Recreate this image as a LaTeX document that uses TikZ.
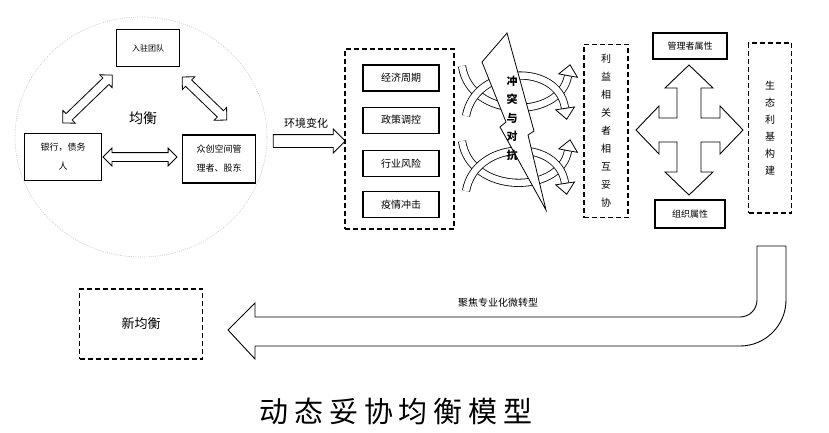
\documentclass[tikz,border=0pt]{standalone}
\usepackage{fontspec}
\setmainfont{Noto Sans CJK SC}
\usetikzlibrary{positioning,shapes.geometric,shapes.arrows}
\tikzset{>=latex}
\tikzset{
  plainbox/.style={draw,line width=1.1pt,inner sep=0pt,align=center,font=\fontsize{9}{19}\selectfont},
  dashbox/.style={draw,line width=1.1pt,dash pattern=on 5pt off 3pt,inner sep=0pt,align=center},
  itembox/.style={plainbox,minimum width=76pt,minimum height=26pt,font=\fontsize{10}{12}\selectfont},
  dblarrow/.style={double arrow,draw,line width=0.8pt,inner sep=4pt,double arrow head extend=4.5pt,minimum height=#1},
  band/.style={line width=0.8pt,double=white,double distance=6.5pt},
  bandhead/.style={isosceles triangle,isosceles triangle stretches,draw,fill=white,line width=0.8pt,inner sep=0pt,minimum width=19pt,minimum height=11pt,sloped,anchor=west},
}

\begin{document}
\begin{tikzpicture}[x=1pt,y=-1pt]
\useasboundingbox (0,0) rectangle (829,433);

% balance circle
\node[ellipse,draw=gray!45,line width=0.6pt,dash pattern=on 1pt off 1.2pt,minimum width=252pt,minimum height=240pt] (balance) at (141,137) {};
\node[font=\fontsize{14}{14}\selectfont] (ballabel) at (143,118) {均衡};
\node[plainbox,minimum width=63pt,minimum height=37pt,font=\fontsize{8}{10}\selectfont] (team) at (148,48) {入驻团队};
\node[plainbox,minimum width=77pt,minimum height=47pt] (bank) at (63,157) {银行，债务\\人};
\node[plainbox,minimum width=73pt,minimum height=48pt] (maker) at (219,159) {众创空间管\\理者、股东};

\node[dblarrow=69pt,rotate=44] (tb) at (87.5,99) {};
\node[dblarrow=62pt,rotate=-44] (tm) at (204.5,98.5) {};
\node[dblarrow=74pt] (bm) at (140,157) {};

% environment change
\node[single arrow,draw,line width=0.8pt,inner sep=6pt,single arrow head extend=5.5pt,minimum height=72pt] (envarrow) at (306,141) {};
\node[font=\fontsize{11}{11}\selectfont,above=2pt of envarrow] (envlabel) {环境变化};

% factors
\node[dashbox,minimum width=109pt,minimum height=180pt] (factors) at (399.5,139) {};
\node[itembox] (econ) at (401,78) {经济周期};
\node[itembox,below=15pt of econ] (policy) {政策调控};
\node[itembox,below=16pt of policy] (industry) {行业风险};
\node[itembox,below=14pt of industry] (epidemic) {疫情冲击};

% conflict arrows
\foreach \dy in {0,75}{
  \begin{scope}[yshift=-\dy pt]
    \draw[band] (462,66) .. controls (470,120) and (560,120) .. (568,76) node[bandhead,pos=1] {};
    \draw[band] (466,116) .. controls (475,65) and (558,62) .. (565,108) node[bandhead,pos=1] {};
  \end{scope}
}

% lightning
\draw[fill=white,line width=0.8pt] (507,33) -- (482,62) -- (506,122) -- (500,127) -- (546,210) -- (528,135) -- (534,131) -- cycle;
\node[font={\fontsize{11}{18.5}\selectfont\bfseries},align=center] (conflict) at (512,118) {冲\\突\\与\\对\\抗};

% compromise
\node[dashbox,minimum width=44pt,minimum height=173pt,font=\fontsize{10}{18}\selectfont] (compromise) at (606,131) {利\\益\\相\\关\\者\\相\\互\\妥\\协};

% four-way arrow
\draw[line width=0.9pt] (689,65) -- (713,88) -- (701,88) -- (701,118) -- (720,118) -- (720,106) -- (743,130) -- (720,154) -- (720,142) -- (701,142) -- (701,172) -- (713,172) -- (689,195) -- (665,172) -- (677,172) -- (677,142) -- (659,142) -- (659,154) -- (636,130) -- (659,106) -- (659,118) -- (677,118) -- (677,88) -- (665,88) -- cycle;

\node[plainbox,minimum width=74pt,minimum height=26pt] (mgr) at (690,46) {管理者属性};
\node[plainbox,minimum width=70pt,minimum height=28pt] (org) at (690,214) {组织属性};
\node[dashbox,minimum width=43pt,minimum height=170pt,font=\fontsize{10}{17}\selectfont] (niche) at (770,128) {生\\态\\利\\基\\构\\建};

% transformation
\draw[line width=0.9pt] (228,330) -- (255,303) -- (255,317) -- (740,317) arc[start angle=-90,end angle=0,radius=17pt] -- (757,246) -- (786,246) -- (786,300) arc[start angle=0,end angle=-90,radius=46pt] -- (255,346) -- (255,359) -- cycle;
\node[font=\fontsize{10}{10}\selectfont] (focus) at (498,303) {聚焦专业化微转型};
\node[dashbox,minimum width=123pt,minimum height=70pt,font=\fontsize{13}{13}\selectfont] (newbal) at (141,324) {新均衡};

\node[font={\fontsize{29}{29}\selectfont\addfontfeature{LetterSpace=20}}] (title) at (396,411) {动态妥协均衡模型};
\end{tikzpicture}
\end{document}
